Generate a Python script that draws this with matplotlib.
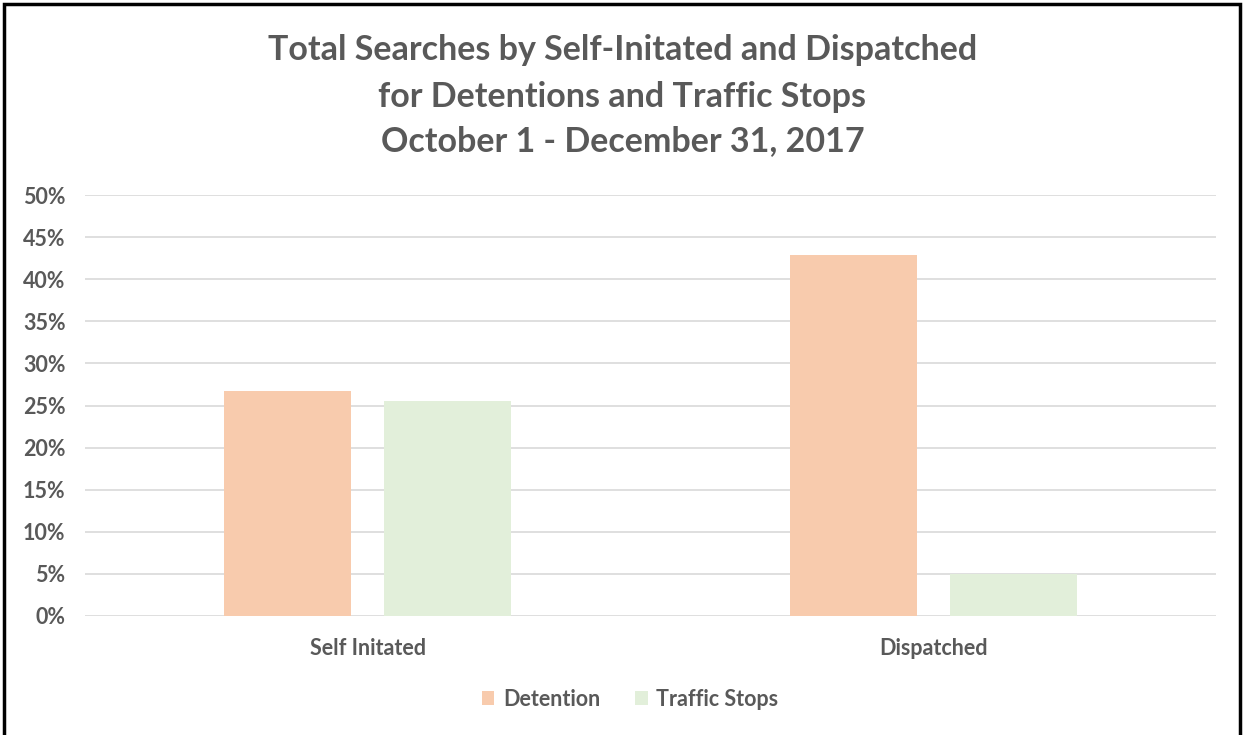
import matplotlib.pyplot as plt
import numpy as np
from matplotlib.patches import Rectangle
from matplotlib.ticker import PercentFormatter

plt.rcParams['font.family'] = ['Lato', 'DejaVu Sans']

categories = ["Self Initated", "Dispatched"]
detention = [26.7, 42.9]
traffic = [25.5, 5.0]
series_names = ["Detention", "Traffic Stops"]
colors = ["#F8CBAD", "#E2EFDA"]
text_col = "#595959"

fig = plt.figure(figsize=(12.45, 7.35), dpi=100)
ax = fig.add_axes([85/1245, 1-616/735, (1216-85)/1245, (616-195)/735])

x = np.arange(len(categories))
w = 0.225
off = 0.1415
ax.bar(x - off, detention, w, color=colors[0], label=series_names[0], zorder=3)
ax.bar(x + off, traffic, w, color=colors[1], label=series_names[1], zorder=3)

ax.set_xlim(-0.5, 1.5)
ax.set_ylim(0, 50)
ax.set_yticks(np.arange(0, 51, 5))
ax.yaxis.set_major_formatter(PercentFormatter(decimals=0))
ax.grid(axis='y', color='#D9D9D9', linewidth=1.2, zorder=0)
for s in ax.spines.values():
    s.set_visible(False)
ax.tick_params(axis='both', length=0, labelsize=15.5, labelcolor=text_col)
ax.tick_params(axis='y', pad=14)
ax.tick_params(axis='x', pad=16)
ax.set_xticks(x)
ax.set_xticklabels(categories)
for lbl in ax.get_xticklabels() + ax.get_yticklabels():
    lbl.set_fontweight('bold')

title_lines = ["Total Searches by Self-Initated and Dispatched",
               "for Detentions and Traffic Stops",
               "October 1 - December 31, 2017"]
for line, ypx in zip(title_lines, [50, 97, 141]):
    fig.text(0.5, 1-ypx/735, line, ha='center', va='center',
             fontsize=24.5, fontweight='bold', color=text_col)

leg = fig.legend(loc='center', bbox_to_anchor=(630/1245, 1-699/735), ncol=2, frameon=False,
                 fontsize=15.5, handlelength=0.6, handleheight=0.6, columnspacing=1.6, handletextpad=0.4)
for t in leg.get_texts():
    t.set_color(text_col)
    t.set_fontweight('bold')

fig.patches.append(Rectangle((4/1245, -0.02), 1236/1245, 1-4/735+0.02, transform=fig.transFigure,
                             fill=False, edgecolor='black', linewidth=2.5))

fig.savefig("out.png", dpi=100)
